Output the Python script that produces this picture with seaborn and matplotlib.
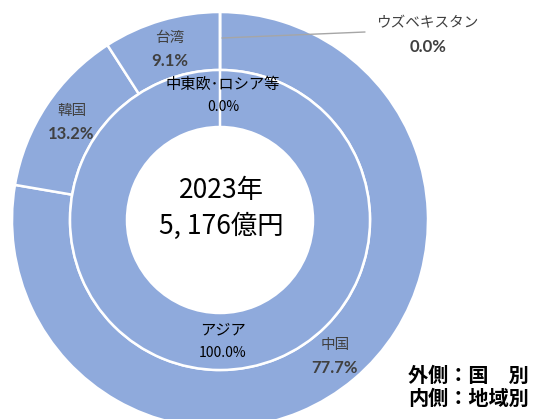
#!/usr/bin/env python3

import numpy as np
import matplotlib.pyplot as plt
import seaborn as sns

# data
outer_labels = ['中国', '韓国', '台湾', 'ウズベキスタン']
outer_values = [77.7, 13.2, 9.1, 0.0]
inner_labels = ['アジア', '中東欧･ロシア等']
inner_values = [100.0, 0.0]
year_text = '2023年'
total_text = '5, 176億円'

sns.set_theme(style='white')
plt.rcParams['font.family'] = ['Noto Sans CJK JP', 'DejaVu Sans']

fill = '#8FAADC'

fig = plt.figure(figsize=(5.34, 4.19), dpi=100)
ax = fig.add_axes([0, 0, 1, 1])

r_out, r_mid, r_in = 208, 150, 93
wp = dict(edgecolor='white', linewidth=1.8)

outer, _ = ax.pie(outer_values, radius=r_out, startangle=90, counterclock=False,
                  colors=[fill] * len(outer_values),
                  wedgeprops=dict(width=r_out - r_mid, **wp))
inner, _ = ax.pie(inner_values, radius=r_mid, startangle=90, counterclock=False,
                  colors=[fill] * len(inner_values),
                  wedgeprops=dict(width=r_mid - r_in, **wp))

def mid_pos(w, r):
    a = np.deg2rad((w.theta1 + w.theta2) / 2)
    return r * np.cos(a), r * np.sin(a)

# outer labels (skip the 0% one, handled with leader line)
for w, name, v in zip(outer[:3], outer_labels[:3], outer_values[:3]):
    x, y = mid_pos(w, 178)
    ax.text(x, y + 11, name, ha='center', va='center', fontsize=10.5, color='#404040')
    ax.text(x, y - 12, f'{v:.1f}%', ha='center', va='center', fontsize=12,
            color='#404040', fontweight='bold', family='Lato')

# Uzbekistan with leader line
ax.plot([2, 145], [182, 188], color='#A6A6A6', lw=1)
ax.text(207, 197, outer_labels[3], ha='center', va='center', fontsize=10.5, color='#404040')
ax.text(208, 173, f'{outer_values[3]:.1f}%', ha='center', va='center', fontsize=12,
        color='#404040', fontweight='bold', family='Lato')

# inner labels
for w, name, v, r in zip(inner, inner_labels, inner_values, [121, 125]):
    x, y = mid_pos(w, r)
    ax.text(x + 3, y + 11, name, ha='center', va='center', fontsize=11, color='black')
    ax.text(x + 3, y - 12, f'{v:.1f}%', ha='center', va='center', fontsize=10,
            color='black')

# centre
ax.text(1, 30, year_text, ha='center', va='center', fontsize=19, color='black')
ax.text(1, -6, total_text, ha='center', va='center', fontsize=19, color='black')

# legend note
ax.text(188, -155, '外側：国　別', ha='left', va='center', fontsize=14.5,
        fontweight='bold', color='black')
ax.text(188, -178, '内側：地域別', ha='left', va='center', fontsize=14.5,
        fontweight='bold', color='black')

ax.set_xlim(-220, 314)
ax.set_ylim(-199, 220)
ax.set_aspect('equal')
ax.axis('off')

fig.savefig('out.png', dpi=100)
